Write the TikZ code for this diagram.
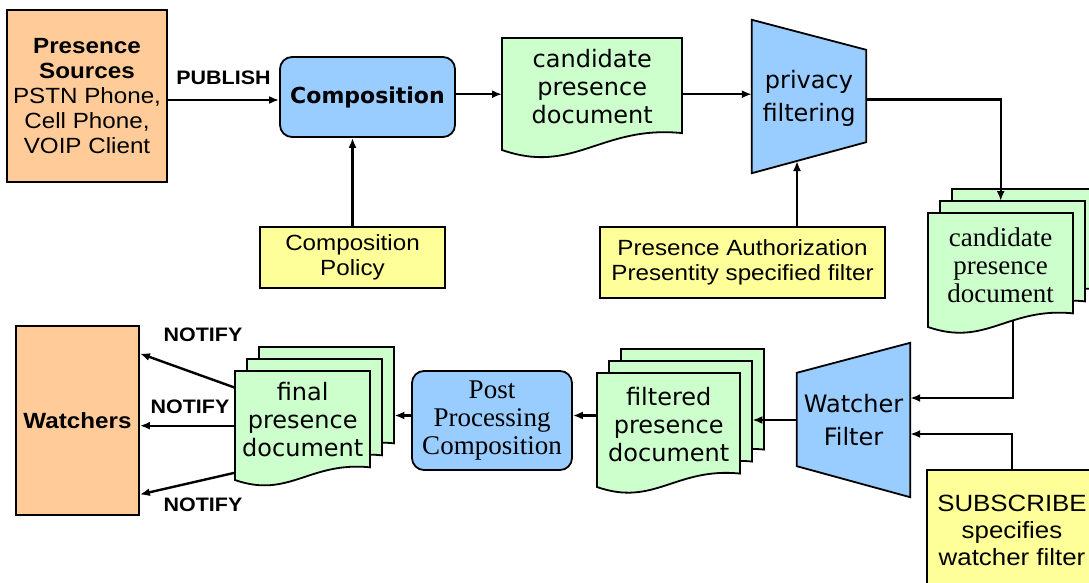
\documentclass[tikz,border=0pt]{standalone}
\usepackage{fontspec}
\usetikzlibrary{arrows.meta,backgrounds}
\newfontfamily\arialf{Liberation Sans}[FakeStretch=1.1]
\newfontfamily\verdf{DejaVu Sans}
\newfontfamily\timesf{Liberation Serif}
\definecolor{srcorange}{HTML}{FFCC99}
\definecolor{procblue}{HTML}{99CCFF}
\definecolor{docgreen}{HTML}{CCFFCC}
\definecolor{polyellow}{HTML}{FFFF99}
\tikzset{
  box/.style={draw, line width=1.8pt, inner sep=0pt, align=center},
  srcbox/.style={box, fill=srcorange, font=\arialf\fontsize{22}{25}\selectfont},
  polbox/.style={box, fill=polyellow, font=\arialf\fontsize{22}{25.5}\selectfont},
  procbox/.style={box, fill=procblue, rounded corners=12pt},
  filterline/.style={draw, line width=1.8pt, fill=procblue},
  docline/.style={draw, line width=1.8pt, fill=docgreen},
  pagebox/.style={inner sep=0pt},
  vtext/.style={align=center, inner sep=0pt, font=\verdf\fontsize{24}{28}\selectfont},
  ftext/.style={align=center, inner sep=0pt, font=\verdf\fontsize{24}{33}\selectfont},
  msglabel/.style={inner sep=0pt, font=\arialf\bfseries\fontsize{19.5}{22}\selectfont},
  arr/.style={line width=2.4pt, -{Latex[length=10pt,width=8pt]}}
}
% one page of a document: name, left, top, width, height of left side
\newcommand{\docpage}[5]{%
  \draw[docline] (#2,#3) -- ++(#4,0) -- ++(0,{#5-0.094*#4})
    .. controls +({-0.45*#4},{-0.045*#4}) and +({0.4*#4},{0.14*#4}) .. (#2,{#3+#5}) -- cycle;
  \node[pagebox, minimum width=#4, minimum height=#5, anchor=north west] (#1) at (#2,#3) {};}
% three pages, back to front
\newcommand{\docstack}[5]{%
  \docpage{#1-3}{#2+24}{#3-24}{#4}{#5}
  \docpage{#1-2}{#2+12}{#3-12}{#4}{#5}
  \docpage{#1}{#2}{#3}{#4}{#5}}

\begin{document}
\begin{tikzpicture}[x=1pt,y=-1pt]
\useasboundingbox (0,0) rectangle (1089,583);

% publish side
\node[srcbox, minimum width=160, minimum height=172] (src) at (87,96)
  {\textbf{Presence}\\\textbf{Sources}\\PSTN Phone,\\Cell Phone,\\VOIP Client};
\node[msglabel] (pub) at (223.5,78) {PUBLISH};
\node[procbox, minimum width=175, minimum height=80, font=\verdf\bfseries\fontsize{22}{25}\selectfont] (comp) at (367.5,97) {Composition};
\node[polbox, minimum width=185, minimum height=61] (pol) at (352.5,257.5) {Composition\\Policy};

\docpage{cand}{502}{38}{180}{112}
\node[vtext] (cand-t) at ([yshift=7.5]cand.center) {candidate\\presence\\document};

% privacy filter
\node[pagebox, minimum width=114, minimum height=153] (priv) at (809,96.5) {};
\draw[filterline] (priv.north west) -- ([yshift=-30]priv.north east) -- ([yshift=31]priv.south east) -- (priv.south west) -- cycle;
\node[ftext] (priv-t) at ([yshift=-2]priv.center) {privacy\\filtering};
\node[polbox, minimum width=285, minimum height=71] (auth) at (742.5,262.5) {Presence Authorization\\Presentity specified filter};
\coordinate (privin) at (797,161);

\docstack{cands}{928}{213}{145}{114}
\node[align=center, inner sep=0pt, font=\timesf\fontsize{27}{28}\selectfont] (cands-t) at ([yshift=5]cands.center) {candidate\\presence\\document};

% watcher filter
\node[pagebox, minimum width=113, minimum height=154] (watch) at (853.5,420) {};
\draw[filterline] ([yshift=-30]watch.north west) -- (watch.north east) -- (watch.south east) -- ([yshift=31]watch.south west) -- cycle;
\node[ftext] (watch-t) at (watch.center) {Watcher\\Filter};
\node[polbox, minimum width=170, minimum height=120, font=\arialf\fontsize{23.5}{27}\selectfont] (sub) at (1012,530)
  {SUBSCRIBE\\specifies\\watcher filter};

% notify side
\docstack{fdoc}{597}{373}{143}{114}
\node[vtext] (fdoc-t) at ([yshift=6]fdoc.center) {filtered\\presence\\document};
\node[procbox, minimum width=160, minimum height=99, font=\timesf\fontsize{27}{28}\selectfont] (post) at (492,420.5) {Post\\Processing\\Composition};
\docstack{fin}{235}{371}{135}{109}
\node[vtext] (fin-t) at ([yshift=6]fin.center) {final\\presence\\document};
\node[srcbox, minimum width=123, minimum height=189, font=\arialf\bfseries\fontsize{22}{25}\selectfont] (wat) at (77.5,420.5) {Watchers};
\node[msglabel] (n1) at (203,335) {NOTIFY};
\node[msglabel] (n2) at (190,407) {NOTIFY};
\node[msglabel] (n3) at (203,505) {NOTIFY};

% connectors
\draw[arr] ([yshift=-4]src.east) -- ([yshift=-4]src.east -| comp.west);
\draw[arr] (comp.east |- cand.east) -- (cand.west);
\draw[arr] (cand.east) -- (cand.east -| priv.west);
\draw[arr] (pol.north) -- (pol.north |- comp.south);
\draw[arr] (privin |- auth.north) -- (privin);
\draw[arr] ([yshift=-3]priv.east) -| ([yshift=12]cands.north);
\begin{scope}[on background layer]
  \draw[arr] ([xshift=12]cands.center) |- ([yshift=22]watch.east);
\end{scope}
\draw[arr] (sub.north) |- ([yshift=-14]watch.east);
\draw[arr] (watch.west) -- (watch.west -| fdoc-2.east);
\draw[arr] ([yshift=5]post.east -| fdoc.west) -- ([yshift=5]post.east);
\draw[arr] ([yshift=5]post.west) -- ([yshift=5]post.west -| fin-3.east);
\draw[arr] ([yshift=38]fin.west) -- ([yshift=67]wat.east);
\draw[arr] (fin.west) -- (fin.west -| wat.east);
\draw[arr] ([yshift=-47]fin.west) -- ([yshift=-74]wat.east);
\end{tikzpicture}
\end{document}
